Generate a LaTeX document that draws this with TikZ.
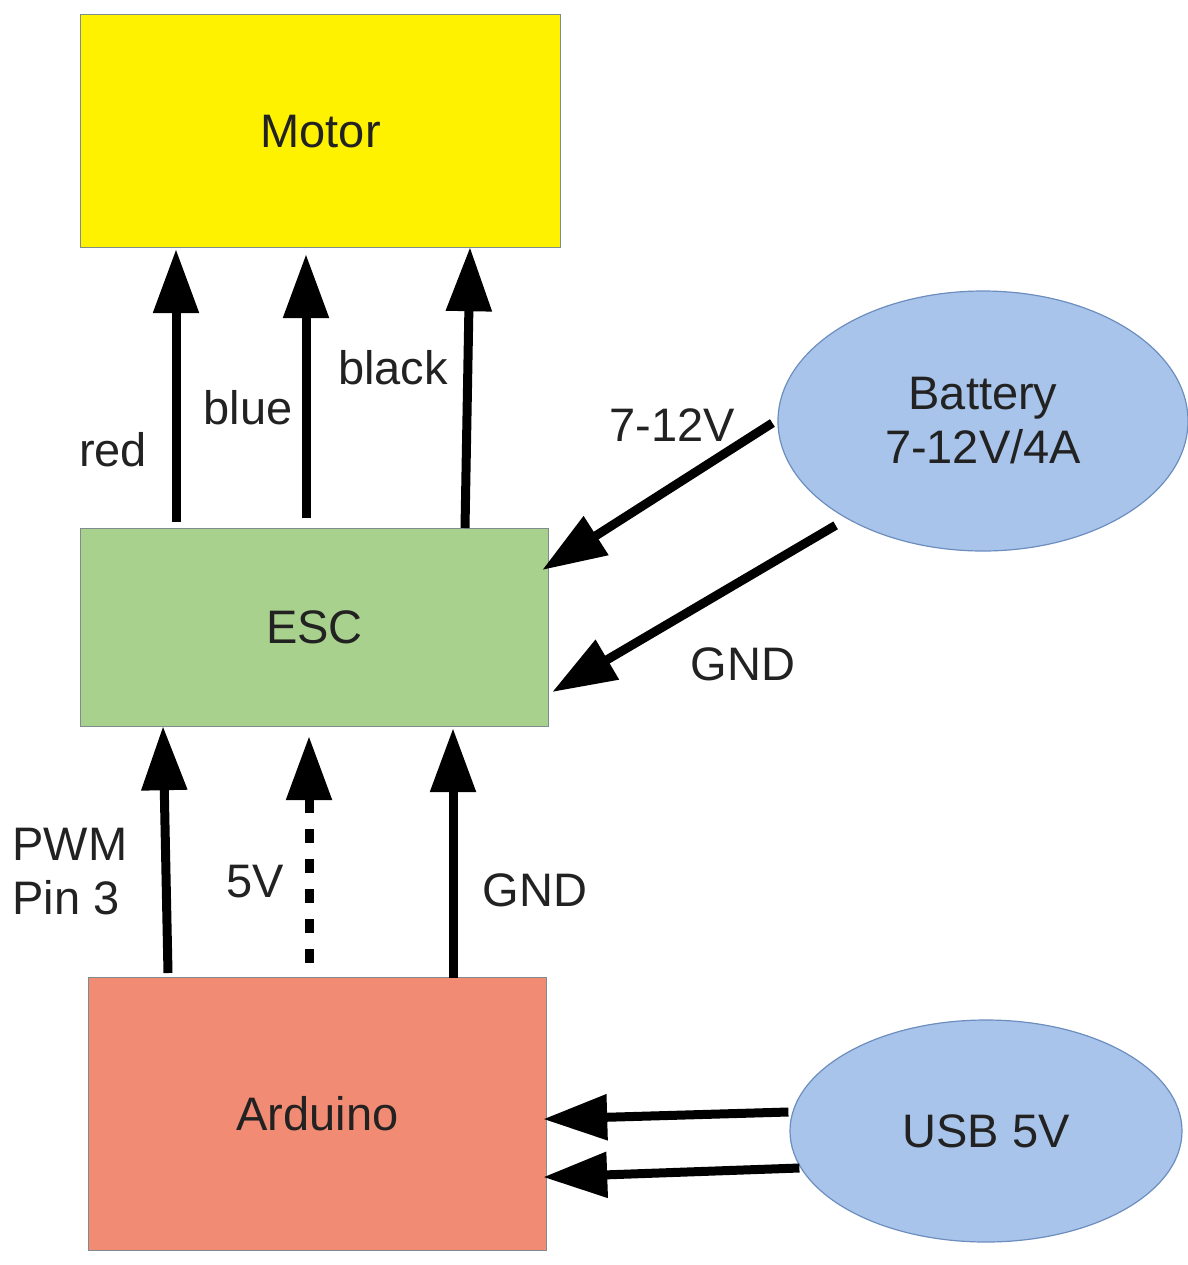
\documentclass[tikz,border=0pt]{standalone}
\usepackage{fontspec}
\setmainfont{Liberation Sans}
\usetikzlibrary{arrows.meta, calc, shapes.geometric}
\definecolor{motorfill}{HTML}{FFF200}
\definecolor{escfill}{HTML}{A9D18E}
\definecolor{ardfill}{HTML}{F28B73}
\definecolor{powerfill}{HTML}{A9C4EB}
\definecolor{powerline}{HTML}{6C8EBF}
\definecolor{boxline}{HTML}{7F8C8D}
\definecolor{inkgray}{HTML}{222222}

\begin{document}
\begin{tikzpicture}[x=0.5pt, y=-0.5pt, font=\fontsize{23.5}{27}\selectfont, text=inkgray,
		box/.style={draw=boxline, line width=0.6pt, rectangle, inner sep=0pt, anchor=north west},
		blob/.style={draw=powerline, line width=0.6pt, fill=powerfill, ellipse, inner sep=0pt, align=center},
		wire/.style={line width=4.5pt, -{Triangle[length=32pt, width=22pt]}},
		lbl/.style={inner sep=0pt}]
		\useasboundingbox (0,0) rectangle (1188,1265);
		\node[box, fill=motorfill, minimum width=240pt, minimum height=116.5pt] (motor) at (80,14) {Motor};
		\node[box, fill=escfill, minimum width=234pt, minimum height=99pt] (esc) at (80,528) {ESC};
		\node[box, fill=ardfill, minimum width=229pt, minimum height=136.5pt] (arduino) at (88,977) {Arduino};
		\node[blob, minimum width=205pt, minimum height=130pt] (battery) at (983,421) {Battery\\7-12V/4A};
		\node[blob, minimum width=196pt, minimum height=111pt] (usb) at (986,1131) {USB 5V};
		% esc to motor
		\draw[wire] ($(esc.north west)+(96,-6)$) -- ($(motor.south west)+(96,1)$);
		\draw[wire] ($(esc.north west)+(226,-10)$) -- ($(motor.south west)+(226,6)$);
		\draw[wire] ($(esc.north west)+(385,0)$) -- ($(motor.south west)+(390,-1)$);
		\node[lbl] (l_red) at (113,450) {red};
		\node[lbl] (l_blue) at (248,408) {blue};
		\node[lbl] (l_black) at (393,368) {black};
		% battery to esc
		\draw[wire] ($(battery.west)+(-5,2)$) -- ($(esc.north east)+(-7,42)$);
		\draw[wire] ($(battery.south west)+(-2,12)$) -- ($(esc.north east)+(3,164)$);
		\node[lbl] (l_vbat) at (672,425) {7-12V};
		\node[lbl] (l_gnd1) at (743,664) {GND};
		% arduino to esc
		\draw[wire] ($(arduino.north west)+(80,-4)$) -- ($(esc.south west)+(83,-1)$);
		\draw[wire, dash pattern=on 7pt off 8pt] ($(arduino.north west)+(221,-14)$) -- ($(esc.south west)+(229,9)$);
		\draw[wire] ($(arduino.north west)+(365,1)$) -- ($(esc.south west)+(373,1)$);
		\node[lbl, align=left, anchor=west] (l_pwm) at (12,872) {PWM\\Pin 3};
		\node[lbl] (l_5v) at (255,882) {5V};
		\node[lbl] (l_gnd2) at (535,890) {GND};
		% usb to arduino
		\draw[wire] ($(usb.west)+(-1,-19)$) -- ($(arduino.east)+(-4,5)$);
		\draw[wire] ($(usb.west)+(10,37)$) -- ($(arduino.east)+(-4,63)$);
	\end{tikzpicture}
\end{document}
